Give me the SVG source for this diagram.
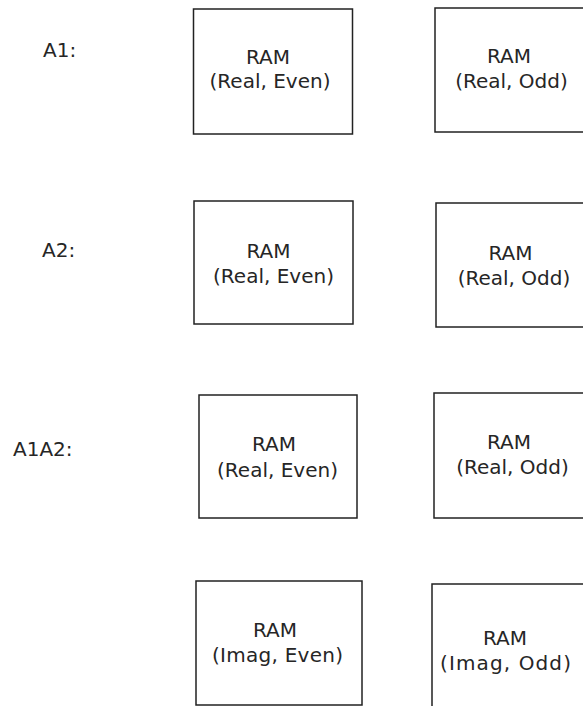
<svg xmlns="http://www.w3.org/2000/svg" width="583" height="706" viewBox="0 0 583 706">
<style>
.box{fill:#fff;stroke:#222;stroke-width:1.5}
text{font-family:"DejaVu Sans",Verdana,sans-serif;font-size:20px;fill:#262626}
.c{text-anchor:middle}
</style>
<rect x="0" y="0" width="583" height="706" fill="#fff"/>
<g id="labels">
<text x="43" y="57">A1:</text>
<text x="42" y="257">A2:</text>
<text x="13" y="456">A1A2:</text>
</g>
<g id="n1"><rect class="box" x="193.5" y="9" width="159" height="125"/>
<text class="c" x="268" y="64">RAM</text>
<text class="c" x="270" y="88">(Real, Even)</text></g>
<g id="n2"><rect class="box" x="435" y="8" width="170" height="124"/>
<text class="c" x="509" y="63">RAM</text>
<text class="c" x="511.5" y="88">(Real, Odd)</text></g>
<g id="n3"><rect class="box" x="194" y="201" width="159" height="123"/>
<text class="c" x="268.5" y="258">RAM</text>
<text class="c" x="273.5" y="283">(Real, Even)</text></g>
<g id="n4"><rect class="box" x="436" y="203" width="170" height="124"/>
<text class="c" x="510.5" y="260">RAM</text>
<text class="c" x="514" y="285">(Real, Odd)</text></g>
<g id="n5"><rect class="box" x="199" y="395" width="158" height="123"/>
<text class="c" x="274" y="451">RAM</text>
<text class="c" x="277.5" y="477">(Real, Even)</text></g>
<g id="n6"><rect class="box" x="434" y="393" width="170" height="125"/>
<text class="c" x="509" y="449">RAM</text>
<text class="c" x="512.5" y="474">(Real, Odd)</text></g>
<g id="n7"><rect class="box" x="196" y="581" width="166" height="124"/>
<text class="c" x="275" y="637">RAM</text>
<text class="c" x="277.5" y="662" textLength="131" lengthAdjust="spacing">(Imag, Even)</text></g>
<g id="n8"><rect class="box" x="432" y="584" width="170" height="140"/>
<text class="c" x="505" y="645">RAM</text>
<text class="c" x="505.5" y="670" textLength="131" lengthAdjust="spacing">(Imag, Odd)</text></g>
<g id="connectors"></g>
</svg>
